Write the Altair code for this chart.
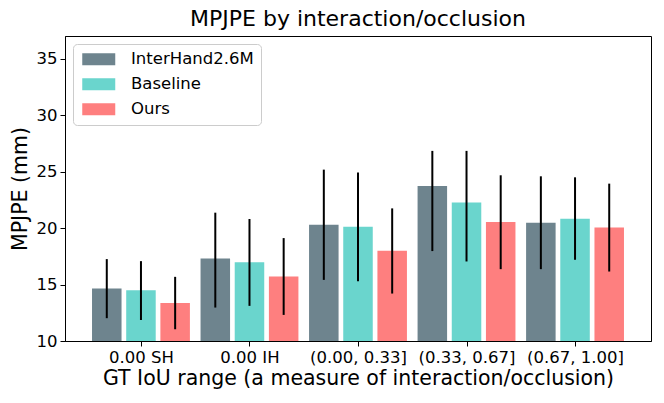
import json
import altair as alt
import pandas as pd

groups = ["0.00 SH", "0.00 IH", "(0.00, 0.33]", "(0.33, 0.67]", "(0.67, 1.00]"]
methods = ["InterHand2.6M", "Baseline", "Ours"]
colors = ["#6e848e", "#6ad5cd", "#fe7f7f"]

interhand_mean = [14.64, 17.30, 20.29, 23.72, 20.47]
baseline_mean = [14.50, 16.98, 20.12, 22.25, 20.83]
ours_mean = [13.37, 15.71, 17.99, 20.53, 20.05]

interhand_lo = [12.02, 12.96, 15.41, 17.96, 16.36]
interhand_hi = [17.25, 21.36, 25.17, 26.83, 24.58]
baseline_lo = [11.86, 13.11, 15.30, 17.04, 17.19]
baseline_hi = [17.07, 20.80, 24.91, 26.83, 24.49]
ours_lo = [11.04, 12.31, 14.20, 16.36, 16.15]
ours_hi = [15.68, 19.11, 21.74, 24.67, 23.93]

offsets = [-0.315, 0.0, 0.315]
half_w = 0.136

rows = []
for m, means, los, his, off in zip(methods,
                                   [interhand_mean, baseline_mean, ours_mean],
                                   [interhand_lo, baseline_lo, ours_lo],
                                   [interhand_hi, baseline_hi, ours_hi],
                                   offsets):
    for i, g in enumerate(groups):
        pos = i + off
        rows.append({
            "method": m, "group": g, "pos": pos,
            "x0": pos - half_w, "x1": pos + half_w,
            "mean": means[i], "lo": los[i], "hi": his[i],
        })
df = pd.DataFrame(rows)

font = "DejaVu Sans"
xscale = alt.Scale(domain=[-0.70, 4.70], nice=False, zero=False)
yscale = alt.Scale(domain=[10, 37], nice=False, zero=False)

label_expr = json.dumps(groups) + "[datum.value]"

# wide, short legend swatch (33 x 12 px at symbolSize 144)
legend_path = "M-1,-1H4.5V1H-1Z"

base = alt.Chart(df)

bars = base.mark_bar(clip=True).encode(
    x=alt.X("x0:Q", scale=xscale,
            axis=alt.Axis(values=[0, 1, 2, 3, 4], labelExpr=label_expr,
                          title="GT IoU range (a measure of interaction/occlusion)",
                          grid=False)),
    x2="x1:Q",
    y=alt.Y("mean:Q", scale=yscale,
            axis=alt.Axis(values=[10, 15, 20, 25, 30, 35], title="MPJPE (mm)",
                          grid=False)),
    y2=alt.datum(10),
    color=alt.Color("method:N",
                    scale=alt.Scale(domain=methods, range=colors),
                    sort=methods,
                    legend=alt.Legend(title=None, orient="none",
                                      legendX=8, legendY=8,
                                      symbolType=legend_path, symbolSize=144,
                                      symbolStrokeWidth=0, symbolOpacity=1,
                                      labelFont=font, labelFontSize=16.5,
                                      labelColor="black", labelOffset=34.5,
                                      rowPadding=8,
                                      padding=7, fillColor="white",
                                      strokeColor="#cccccc", cornerRadius=4)),
)

errs = base.mark_rule(color="black", strokeWidth=2, clip=True).encode(
    x=alt.X("pos:Q", scale=xscale),
    y=alt.Y("lo:Q", scale=yscale),
    y2="hi:Q",
)

chart = alt.layer(bars, errs).properties(
    width=586, height=305,
    title=alt.TitleParams("MPJPE by interaction/occlusion", font=font,
                          fontSize=22, fontWeight="normal", color="black",
                          anchor="middle", offset=5),
    autosize=alt.AutoSizeParams(type="none"),
    padding={"left": 57, "top": 28, "right": 5, "bottom": 50},
).configure_view(
    stroke="black", strokeWidth=1,
).configure_axis(
    labelFont=font, labelFontSize=16.5, labelColor="black",
    titleFont=font, titleFontSize=20.5, titleColor="black", titleFontWeight="normal",
    domainColor="black", tickColor="black", tickSize=5, labelPadding=3,
    domainWidth=1, tickWidth=1,
).configure_axisX(
    titlePadding=3,
).configure_axisY(
    titlePadding=6,
)

chart.save("out.html", embed_options={"renderer": "svg", "actions": False})
